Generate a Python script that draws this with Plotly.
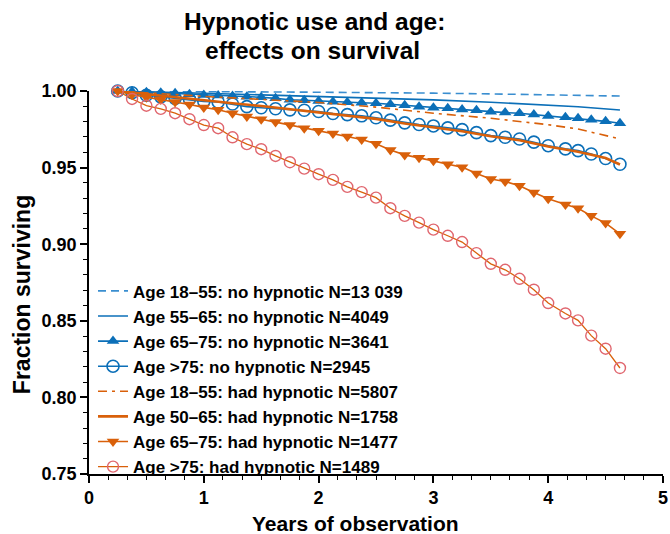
import plotly.graph_objects as go

# Observation times (years) for the series drawn with markers
t_marked = [0.25, 0.375, 0.5, 0.625, 0.75, 0.875, 1.0, 1.125, 1.25, 1.375,
            1.5, 1.625, 1.75, 1.875, 2.0, 2.125, 2.25, 2.375, 2.5, 2.625,
            2.75, 2.875, 3.0, 3.125, 3.25, 3.375, 3.5, 3.625, 3.75, 3.875,
            4.0, 4.15, 4.26, 4.375, 4.5, 4.625]

# Observation times for the plain line series
t_lines = [0.25, 0.5, 1.0, 1.5, 2.0, 2.5, 3.0, 3.5, 4.0, 4.26, 4.625]
t_lines_fine = [0.25, 0.5, 0.75, 1.0, 1.25, 1.5, 1.75, 2.0, 2.25, 2.5, 2.75,
                3.0, 3.25, 3.5, 3.75, 4.0, 4.26, 4.5, 4.625]

# Fraction surviving
no_18_55 = [1.0, 0.9998, 0.9995, 0.9994, 0.9992, 0.999, 0.9986, 0.9981,
            0.9976, 0.9973, 0.9967]
no_55_65 = [1.0, 0.9994, 0.9985, 0.9975, 0.9965, 0.9954, 0.9942, 0.9927,
            0.9908, 0.9897, 0.9876]
no_65_75 = [1.0, 0.9996, 0.9992, 0.9989, 0.9985, 0.9978, 0.9974, 0.997,
            0.9967, 0.9963, 0.9959, 0.9952, 0.9943, 0.994, 0.9935, 0.993,
            0.9926, 0.9923, 0.992, 0.9913, 0.9907, 0.9898, 0.9891, 0.9887,
            0.988, 0.9874, 0.9865, 0.9859, 0.9855, 0.9846, 0.9837, 0.9829,
            0.9822, 0.9813, 0.9802, 0.9789]
no_over_75 = [1.0, 0.9989, 0.9972, 0.9962, 0.9952, 0.9946, 0.9932, 0.9928,
              0.9915, 0.9898, 0.9891, 0.9884, 0.9877, 0.9874, 0.9866, 0.9853,
              0.9846, 0.9838, 0.9825, 0.981, 0.9792, 0.9781, 0.9772, 0.9759,
              0.9748, 0.9728, 0.9709, 0.9698, 0.9687, 0.9666, 0.9643, 0.9622,
              0.9611, 0.9589, 0.9559, 0.9522]
had_18_55 = [1.0, 0.9988, 0.9965, 0.9945, 0.9925, 0.9895, 0.9855, 0.9822,
             0.978, 0.9752, 0.9687]
had_50_65 = [1.0, 0.998, 0.9958, 0.9937, 0.992, 0.9902, 0.9882, 0.9862,
             0.9842, 0.9818, 0.9788, 0.9763, 0.9737, 0.9705, 0.9678, 0.9638,
             0.9603, 0.9562, 0.952]
had_65_75 = [1.0, 0.9975, 0.996, 0.9945, 0.9928, 0.9912, 0.9893, 0.9878,
             0.9855, 0.9833, 0.9816, 0.9797, 0.9778, 0.9757, 0.974, 0.9723,
             0.9703, 0.9684, 0.9655, 0.9615, 0.9583, 0.9565, 0.9544, 0.9522,
             0.9503, 0.9461, 0.9426, 0.9409, 0.9381, 0.9337, 0.9296, 0.9259,
             0.9235, 0.9185, 0.9138, 0.9068]
had_over_75 = [1.0, 0.9948, 0.9904, 0.9883, 0.9855, 0.9816, 0.9778, 0.9757,
               0.9698, 0.9653, 0.962, 0.9576, 0.9535, 0.9493, 0.9457, 0.942,
               0.9374, 0.934, 0.9304, 0.9235, 0.9185, 0.9141, 0.9095, 0.9055,
               0.9014, 0.8942, 0.8872, 0.8833, 0.8774, 0.8703, 0.8616, 0.8548,
               0.8503, 0.8403, 0.8318, 0.8192]

labels = [
    "Age 18–55: no hypnotic N=13 039",
    "Age 55–65: no hypnotic N=4049",
    "Age 65–75: no hypnotic N=3641",
    "Age >75: no hypnotic N=2945",
    "Age 18–55: had hypnotic N=5807",
    "Age 50–65: had hypnotic N=1758",
    "Age 65–75: had hypnotic N=1477",
    "Age >75: had hypnotic N=1489",
]
title_lines = ["Hypnotic use and age:", "effects on survival"]
x_title = "Years of observation"
y_title = "Fraction surviving"

BLUE = "#0B6FB8"
BLUE_LIGHT = "#3A8ED0"
ORANGE = "#D9600A"
RED = "#E0666E"
FONT = "Liberation Sans, Arial, sans-serif"

fig = go.Figure()

fig.add_trace(go.Scatter(
    x=t_lines, y=no_18_55, name=labels[0], mode="lines",
    line=dict(color=BLUE_LIGHT, width=1.6, dash="8px,5px")))
fig.add_trace(go.Scatter(
    x=t_lines, y=no_55_65, name=labels[1], mode="lines",
    line=dict(color=BLUE, width=1.6)))
fig.add_trace(go.Scatter(
    x=t_marked, y=no_65_75, name=labels[2], mode="lines+markers",
    line=dict(color=BLUE, width=1.6),
    marker=dict(symbol="triangle-up", size=11, color=BLUE)))
fig.add_trace(go.Scatter(
    x=t_marked, y=no_over_75, name=labels[3], mode="lines+markers",
    line=dict(color=BLUE, width=1.6),
    marker=dict(symbol="circle-open", size=12, color=BLUE,
                line=dict(width=1.6))))
fig.add_trace(go.Scatter(
    x=t_lines, y=had_18_55, name=labels[4], mode="lines",
    line=dict(color=ORANGE, width=1.6, dash="9px,5px,3px,5px")))
fig.add_trace(go.Scatter(
    x=t_lines_fine, y=had_50_65, name=labels[5], mode="lines",
    line=dict(color=ORANGE, width=2.6)))
fig.add_trace(go.Scatter(
    x=t_marked, y=had_65_75, name=labels[6], mode="lines+markers",
    line=dict(color=ORANGE, width=1.6),
    marker=dict(symbol="triangle-down", size=11, color=ORANGE)))
fig.add_trace(go.Scatter(
    x=t_marked, y=had_over_75, name=labels[7], mode="lines+markers",
    line=dict(color=ORANGE, width=1.3),
    marker=dict(symbol="circle-open", size=11, color=RED,
                line=dict(width=1.4))))

for tr in fig.data:
    tr.cliponaxis = False


def text_note(text, x, y, size, angle=0):
    return dict(text="<b>" + text + "</b>", xref="paper", yref="paper",
                x=x, y=y, xanchor="center", yanchor="middle",
                showarrow=False, textangle=angle,
                font=dict(family=FONT, size=size, color="black"))


fig.update_layout(
    width=670, height=534,
    margin=dict(l=89, r=7, t=91, b=60),
    paper_bgcolor="white", plot_bgcolor="white",
    font=dict(family=FONT, color="black"),
    showlegend=True,
    legend=dict(
        x=0.007, y=-0.027, xanchor="left", yanchor="bottom",
        bgcolor="rgba(0,0,0,0)",
        font=dict(family=FONT, size=17, weight="bold", color="black"),
        tracegroupgap=0, itemwidth=30),
    annotations=[
        text_note(title_lines[0], 0.392, 1.1802, 24.5),
        text_note(title_lines[1], 0.389, 1.1070, 24.5),
        text_note(x_title, 0.465, -0.128, 21),
        text_note(y_title, -0.1167, 0.467, 23, angle=-90),
    ],
)

fig.update_xaxes(
    range=[0, 5], dtick=1, tick0=0, automargin=False,
    showline=True, linecolor="black", linewidth=1.5,
    ticks="outside", ticklen=7, tickwidth=1.5, tickcolor="black",
    minor=dict(dtick=1 / 6, ticks="outside", ticklen=4, tickwidth=1.2,
               tickcolor="black", showgrid=False),
    showgrid=False, zeroline=False,
    tickfont=dict(family=FONT, size=18, weight="bold"),
)
fig.update_yaxes(
    range=[0.75, 1.0], dtick=0.05, tick0=0.75, tickformat=".2f",
    automargin=False,
    showline=True, linecolor="black", linewidth=1.5,
    ticks="outside", ticklen=7, tickwidth=1.5, tickcolor="black",
    minor=dict(dtick=0.01, ticks="outside", ticklen=4, tickwidth=1.2,
               tickcolor="black", showgrid=False),
    showgrid=False, zeroline=False,
    tickfont=dict(family=FONT, size=18, weight="bold"),
)

fig.write_html("out.html")
